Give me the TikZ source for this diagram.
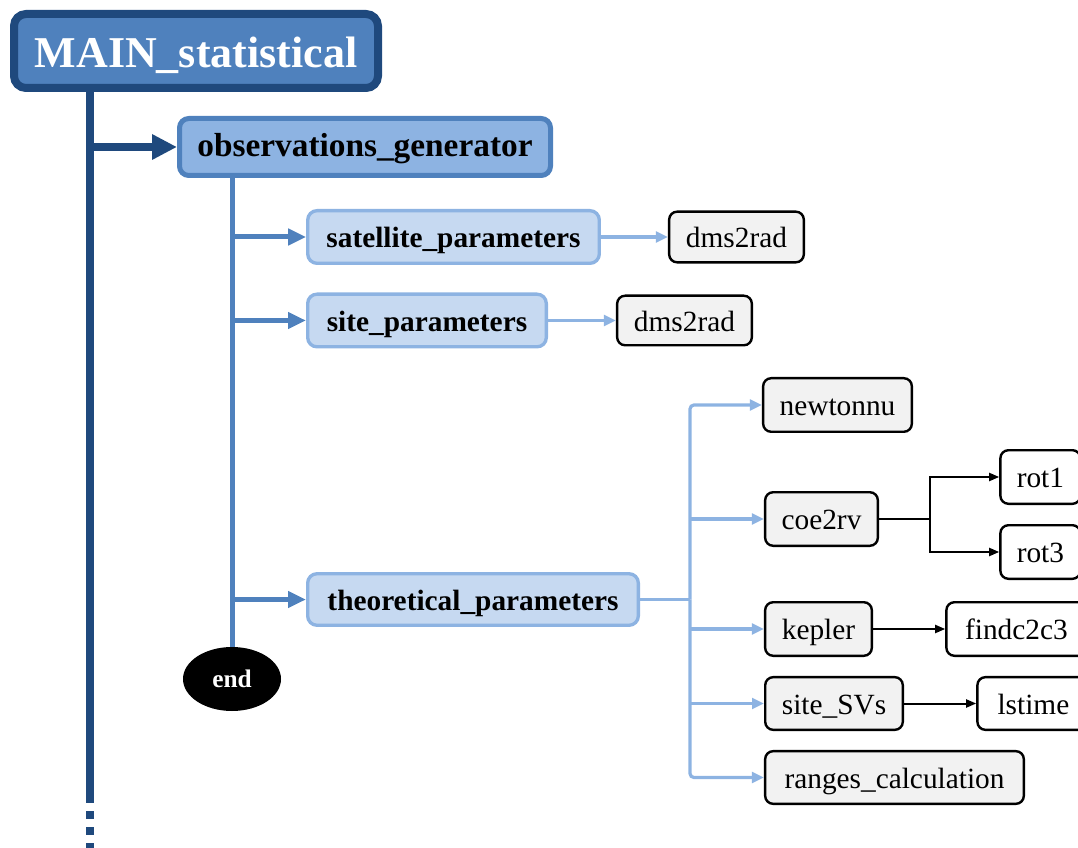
\documentclass[tikz,border=0pt]{standalone}
\usepackage{fontspec}
\setmainfont{Liberation Serif}
\usetikzlibrary{arrows.meta,shapes.geometric}

\definecolor{darkblue}{RGB}{31,73,125}
\definecolor{midblue}{RGB}{79,129,189}
\definecolor{skyblue}{RGB}{141,179,226}
\definecolor{paleblue}{RGB}{198,217,241}
\definecolor{boxgray}{RGB}{242,242,242}

\begin{document}
\begin{tikzpicture}[x=0.75pt, y=-0.75pt,
	mainbox/.style={draw=darkblue, fill=midblue, line width=6pt, rounded corners=9pt, inner sep=0pt,
		text height=24.75pt, text depth=0pt, text=white, font=\fontsize{33}{36}\selectfont\bfseries},
	genbox/.style={draw=midblue, fill=skyblue, line width=3.75pt, rounded corners=7pt, inner sep=0pt,
		text height=17.5pt, text depth=2.5pt, font=\fontsize{25}{28}\selectfont\bfseries},
	parbox/.style={draw=skyblue, fill=paleblue, line width=2.5pt, rounded corners=7pt, inner sep=0pt,
		text height=15.8pt, text depth=0pt, font=\fontsize{22}{26}\selectfont\bfseries},
	funcbox/.style={draw=black, fill=boxgray, line width=1.8pt, rounded corners=6pt, inner sep=0pt,
		text height=16.3pt, text depth=0pt, font=\fontsize{22}{26}\selectfont},
	leafbox/.style={funcbox, fill=white, anchor=west},
	mainline/.style={draw=darkblue, line width=6pt},
	mainarrow/.style={mainline, -{Triangle[length=18.75pt, width=18pt]}},
	subline/.style={draw=midblue, line width=3.75pt},
	subarrow/.style={subline, -{Triangle[length=13.5pt, width=12pt]}},
	funcline/.style={draw=skyblue, line width=2.4pt},
	funcarrow/.style={funcline, -{Triangle[length=9pt, width=8pt]}},
	callline/.style={draw=black, line width=1.5pt},
	callarrow/.style={callline, -{Triangle[length=7.5pt, width=6pt]}}]
	\useasboundingbox (0,0) rectangle (1078,848);

	% boxes
	\node[mainbox, minimum width=273pt, minimum height=55.5pt] (main) at (196,51) {MAIN\_statistical};
	\node[genbox, minimum width=278.25pt, minimum height=42.75pt] (obs) at (365,147) {observations\_generator};
	\node[parbox, minimum width=218.7pt, minimum height=39.5pt] (sat) at (453.5,237) {satellite\_parameters};
	\node[parbox, minimum width=179pt, minimum height=39.5pt] (site) at (427,320.5) {site\_parameters};
	\node[parbox, minimum width=248pt, minimum height=38.7pt] (theo) at (473,599.5) {theoretical\_parameters};
	\node[ellipse, fill=black, inner sep=0pt, minimum width=73.5pt, minimum height=48pt, text=white,
		text height=12.9pt, text depth=0pt, font=\fontsize{19}{22}\selectfont\bfseries] (endnode) at (232,679) {end};

	\node[funcbox, minimum width=101pt, minimum height=38pt] (dms1) at (736.5,237) {dms2rad};
	\node[funcbox, minimum width=101pt, minimum height=37.2pt] (dms2) at (684.5,320.5) {dms2rad};
	\node[funcbox, minimum width=111.5pt, minimum height=40.2pt] (newt) at (837.5,405) {newtonnu};
	\node[funcbox, minimum width=84.5pt, minimum height=40.2pt] (coe) at (821.5,519) {coe2rv};
	\node[funcbox, minimum width=80pt, minimum height=40.2pt] (kep) at (818.5,629) {kepler};
	\node[funcbox, minimum width=103.2pt, minimum height=39.5pt] (svs) at (834,703.5) {site\_SVs};
	\node[funcbox, minimum width=194pt, minimum height=39.5pt] (rng) at (894.5,777.5) {ranges\_calculation};

	\node[leafbox, minimum width=60pt, minimum height=40.2pt] (rot1) at (999.2,477) {rot1};
	\node[leafbox, minimum width=60pt, minimum height=40.2pt] (rot3) at (999.2,552) {rot3};
	\node[leafbox, minimum width=105pt, minimum height=40.2pt] (findc) at (945.2,629) {findc2c3};
	\node[leafbox, minimum width=84pt, minimum height=39.5pt] (lst) at (976.2,703.5) {lstime};

	% main trunk, fading out at the bottom
	\coordinate (mainend) at (90,803);
	\coordinate (maintail) at (90,852);
	\draw[mainline] (main.south -| mainend) -- (mainend);
	\draw[mainline, dash pattern=on 6pt off 6pt, dash phase=6pt] (mainend) -- (maintail);
	\draw[mainarrow] (mainend |- obs.west) -- (obs.west);

	% generator calls
	\draw[subline] (obs.south -| endnode) -- (endnode.north);
	\draw[subarrow] (endnode |- sat.west) -- (sat.west);
	\draw[subarrow] (endnode |- site.west) -- (site.west);
	\draw[subarrow] (endnode |- theo.west) -- (theo.west);

	% parameter calls
	\draw[funcarrow] (sat.east) -- (dms1.west);
	\draw[funcarrow] (site.east) -- (dms2.west);
	\coordinate (fork) at (690,599.5);
	\draw[funcline] (theo.east) -- (fork);
	\draw[funcarrow, rounded corners=3pt] (fork) |- (newt.west);
	\draw[funcarrow, rounded corners=3pt] (fork) |- (rng.west);
	\draw[funcarrow] (fork |- coe.west) -- (coe.west);
	\draw[funcarrow] (fork |- kep.west) -- (kep.west);
	\draw[funcarrow] (fork |- svs.west) -- (svs.west);

	% helper calls
	\coordinate (split) at (930,519);
	\draw[callline] (coe.east) -- (split);
	\draw[callarrow] (split) |- (rot1.west);
	\draw[callarrow] (split) |- (rot3.west);
	\draw[callarrow] (kep.east) -- (findc.west);
	\draw[callarrow] (svs.east) -- (lst.west);
\end{tikzpicture}
\end{document}
